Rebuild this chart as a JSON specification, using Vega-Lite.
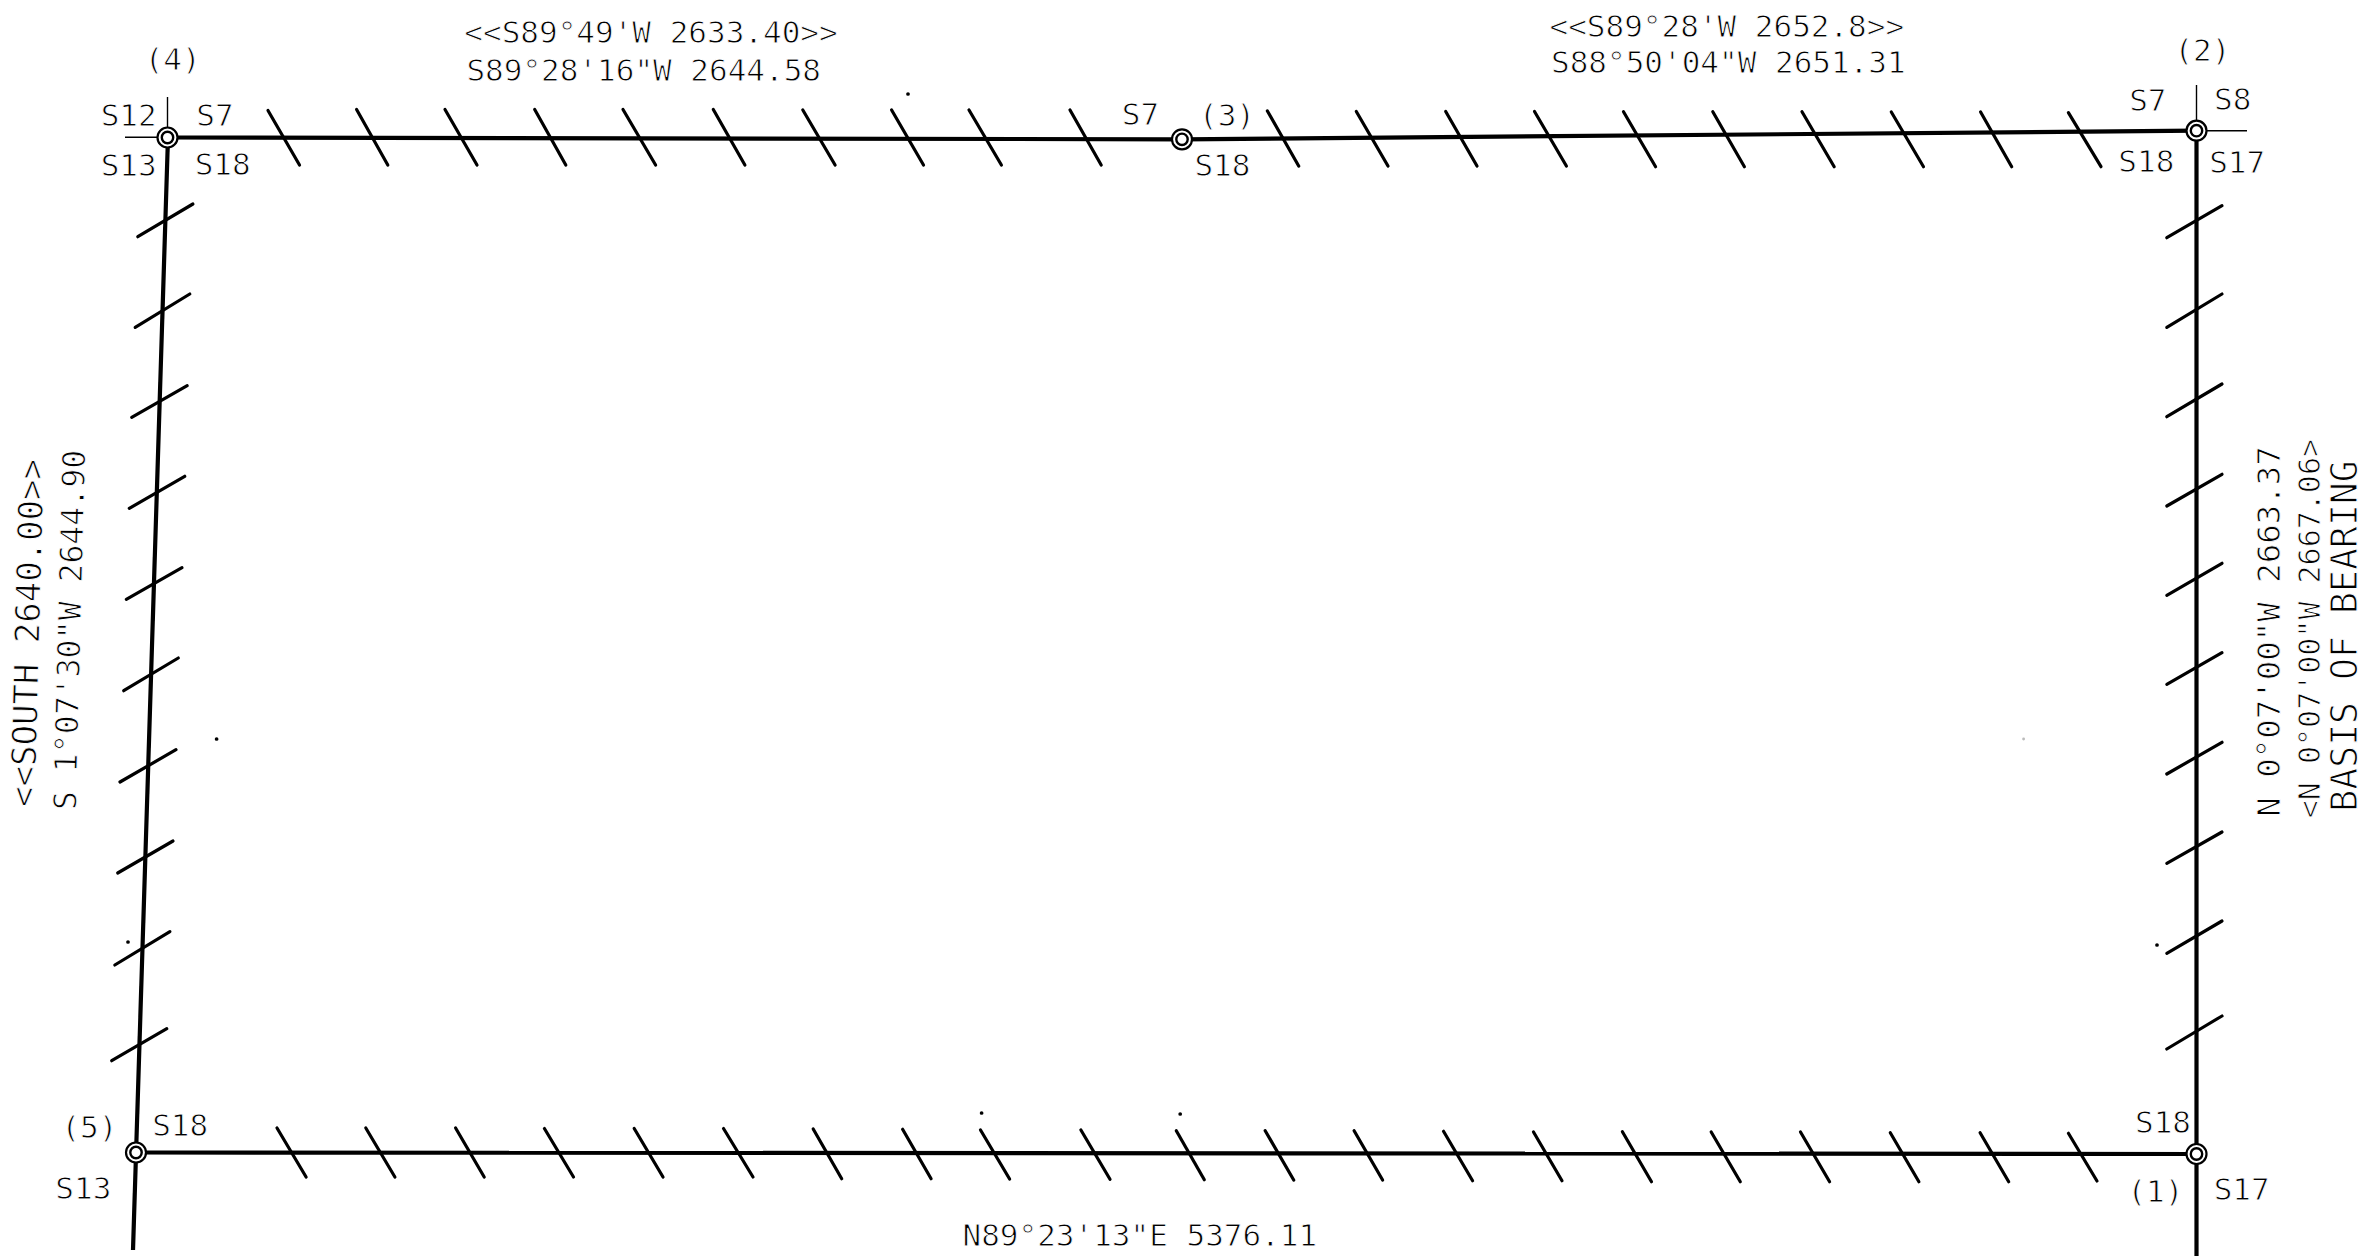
{
"$schema":"https://vega.github.io/schema/vega-lite/v6.json",
"width":2375,"height":1260,"padding":0,
"autosize":{"type":"fit","contains":"padding"},
"background":"white",
"config":{"view":{"stroke":null},"axis":{"domain":false}},
"datasets":{
"boundary":[
{"x":168,"y":137.5,"x2":1182,"y2":139.3},
{"x":1182,"y":139.3,"x2":2196.5,"y2":130.7},
{"x":136,"y":1152.5,"x2":2196.5,"y2":1154},
{"x":168,"y":137,"x2":133,"y2":1250},
{"x":2196.5,"y":131,"x2":2196.5,"y2":1256}
],
"extensions":[
{"x":167.5,"y":97,"x2":167.5,"y2":130},
{"x":125,"y":137.3,"x2":158,"y2":137.3},
{"x":2196.5,"y":85,"x2":2196.5,"y2":121},
{"x":2206,"y":130.7,"x2":2247,"y2":130.7}
],
"ticks":[
{"x":268,"y":110.5,"x2":299.5,"y2":165},{"x":356.6,"y":109.5,"x2":387.8,"y2":165},{"x":445,"y":109.5,"x2":477,"y2":165},{"x":534.7,"y":109.5,"x2":565.8,"y2":165},{"x":623,"y":109.5,"x2":655.6,"y2":165},{"x":713.3,"y":109.5,"x2":744.9,"y2":165},{"x":802.8,"y":110,"x2":835.1,"y2":165},{"x":891.6,"y":110,"x2":923.5,"y2":165},{"x":969,"y":110,"x2":1001.4,"y2":165},{"x":1070,"y":110,"x2":1101.2,"y2":165},
{"x":1267.4,"y":111,"x2":1298.7,"y2":166},{"x":1356.3,"y":111.5,"x2":1388,"y2":166},{"x":1445.7,"y":111.5,"x2":1477,"y2":166},{"x":1534.5,"y":111.5,"x2":1566.4,"y2":166},{"x":1623.5,"y":111.7,"x2":1655.6,"y2":166.7},{"x":1712.8,"y":111.7,"x2":1744.4,"y2":166.7},{"x":1802,"y":111.7,"x2":1834.2,"y2":166.7},{"x":1891.3,"y":112,"x2":1923.5,"y2":166.7},{"x":1980.6,"y":112,"x2":2011.7,"y2":166.7},{"x":2068.4,"y":112.7,"x2":2101,"y2":166.7},
{"x":277,"y":1128,"x2":306.1,"y2":1177},{"x":365.8,"y":1128,"x2":394.9,"y2":1177},{"x":455.6,"y":1128,"x2":484.2,"y2":1177},{"x":544.4,"y":1128.5,"x2":573.5,"y2":1177},{"x":634.2,"y":1128.5,"x2":663,"y2":1177},{"x":723.5,"y":1128.5,"x2":753,"y2":1177},{"x":813.2,"y":1129,"x2":841.7,"y2":1178.7},{"x":902.6,"y":1129.3,"x2":931.1,"y2":1178.7},{"x":980.5,"y":1130,"x2":1009.6,"y2":1179},{"x":1080.9,"y":1130,"x2":1110,"y2":1179.3},{"x":1176.3,"y":1130.7,"x2":1204.3,"y2":1179.7},{"x":1265.2,"y":1130.7,"x2":1293.7,"y2":1180},{"x":1354.1,"y":1130.7,"x2":1382.6,"y2":1180},{"x":1443.5,"y":1131.3,"x2":1472.6,"y2":1180.7},{"x":1533.5,"y":1132,"x2":1562,"y2":1180.7},
{"x":1622.4,"y":1131.7,"x2":1651.5,"y2":1181.7},{"x":1711.2,"y":1132,"x2":1740.3,"y2":1181.7},{"x":1800.5,"y":1132,"x2":1829.6,"y2":1181.7},{"x":1890.3,"y":1132.7,"x2":1918.9,"y2":1181.7},{"x":1980.1,"y":1132.7,"x2":2008.7,"y2":1181.7},{"x":2068.4,"y":1133.3,"x2":2097,"y2":1181},
{"x":137.8,"y":236.7,"x2":192.9,"y2":204},{"x":135.2,"y":327.3,"x2":189.8,"y2":294},{"x":131.7,"y":417.3,"x2":187.2,"y2":385.7},{"x":129.3,"y":508.3,"x2":184.7,"y2":476.3},{"x":126.3,"y":599.3,"x2":182,"y2":567.7},{"x":123.7,"y":690.7,"x2":178.3,"y2":658},{"x":120,"y":782,"x2":176,"y2":749.7},{"x":117.7,"y":873,"x2":173,"y2":841},{"x":114.8,"y":965,"x2":169.9,"y2":931.7},{"x":111.7,"y":1060.7,"x2":166.8,"y2":1028.7},
{"x":2166.8,"y":237.7,"x2":2222,"y2":205.7},{"x":2166.8,"y":327.3,"x2":2222,"y2":294},{"x":2166.8,"y":416.7,"x2":2222,"y2":384},{"x":2166.8,"y":506,"x2":2222,"y2":474.3},{"x":2166.8,"y":595.3,"x2":2222,"y2":563.3},{"x":2166.8,"y":684.3,"x2":2222,"y2":652.7},{"x":2166.8,"y":774,"x2":2222,"y2":742.3},{"x":2166.8,"y":863.3,"x2":2222,"y2":832},{"x":2166.8,"y":953.3,"x2":2222,"y2":921},{"x":2166.8,"y":1049,"x2":2222,"y2":1016}
],
"corners":[{"x":167.5,"y":137.5},{"x":1182,"y":139.3},{"x":2196.5,"y":130.7},{"x":136,"y":1152.5},{"x":2196.5,"y":1154}],
"specks":[{"x":908,"y":94},{"x":216.6,"y":739},{"x":128,"y":942},{"x":2157,"y":945},{"x":981.6,"y":1113},{"x":1180.2,"y":1114}],
"faintSpecks":[{"x":2023.6,"y":739}],
"labels":[
{"t":"(4)","x":172.7,"y":59},{"t":"S12","x":128.7,"y":115},{"t":"S7","x":215,"y":115},{"t":"S13","x":128.7,"y":165},{"t":"S18","x":222.7,"y":163.6},
{"t":"S7","x":1140.5,"y":113.6},{"t":"(3)","x":1227,"y":115},{"t":"S18","x":1222.4,"y":165},
{"t":"(2)","x":2202.4,"y":50},{"t":"S7","x":2147.8,"y":100},{"t":"S8","x":2232.7,"y":98.5},{"t":"S18","x":2146.3,"y":160.6},{"t":"S17","x":2237.2,"y":162},
{"t":"(5)","x":89.4,"y":1127},{"t":"S18","x":180.2,"y":1125.4},{"t":"S13","x":83.3,"y":1187.5},
{"t":"S18","x":2163,"y":1122.4},{"t":"(1)","x":2155.4,"y":1190.5},{"t":"S17","x":2241.7,"y":1189},
{"t":"<<S89°49'W 2633.40>>","x":651,"y":32},{"t":"S89°28'16\"W 2644.58","x":643.7,"y":69.7},{"t":"<<S89°28'W 2652.8>>","x":1726.8,"y":25.8},{"t":"S88°50'04\"W 2651.31","x":1728.3,"y":62},{"t":"N89°23'13\"E 5376.11","x":1139.8,"y":1235}
],
"leftA":[{"t":"<<SOUTH 2640.00>>","x":29.3,"y":633}],
"leftB":[{"t":"S 1°07'30\"W 2644.90","x":71.6,"y":630}],
"rightA":[{"t":"N 0°07'00\"W 2663.37","x":2270,"y":631.6}],
"rightB":[{"t":"<N 0°07'00\"W 2667.06>","x":2311,"y":628.6}],
"rightC":[{"t":"BASIS OF BEARING","x":2346,"y":636}]
},
"encoding":{
"x":{"field":"x","type":"quantitative","axis":null,"scale":{"domain":[0,2375],"nice":false,"zero":false}},
"y":{"field":"y","type":"quantitative","axis":null,"scale":{"domain":[1260,0],"nice":false,"zero":false}}
},
"layer":[
{"data":{"name":"boundary"},"mark":{"type":"rule","color":"black","strokeWidth":4.2,"strokeCap":"butt"},"encoding":{"x2":{"field":"x2"},"y2":{"field":"y2"}}},
{"data":{"name":"extensions"},"mark":{"type":"rule","color":"black","strokeWidth":1.4},"encoding":{"x2":{"field":"x2"},"y2":{"field":"y2"}}},
{"data":{"name":"ticks"},"mark":{"type":"rule","color":"black","strokeWidth":3.2,"strokeCap":"round"},"encoding":{"x2":{"field":"x2"},"y2":{"field":"y2"}}},
{"data":{"name":"corners"},"mark":{"type":"point","shape":"circle","filled":false,"fill":"white","fillOpacity":1,"stroke":"black","strokeOpacity":1,"strokeWidth":2.2,"size":400}},
{"data":{"name":"corners"},"mark":{"type":"point","shape":"circle","filled":false,"fill":"white","fillOpacity":1,"stroke":"black","strokeOpacity":1,"strokeWidth":2.4,"size":130}},
{"data":{"name":"specks"},"mark":{"type":"point","shape":"circle","filled":true,"color":"black","opacity":1,"size":14}},
{"data":{"name":"faintSpecks"},"mark":{"type":"point","shape":"circle","filled":true,"color":"#bbbbbb","opacity":1,"size":8}},
{"data":{"name":"labels"},"mark":{"type":"text","font":"DejaVu Sans Mono","fontSize":31,"dy":2,"align":"center","baseline":"middle","fill":"black","stroke":"white","strokeWidth":0.9},"encoding":{"text":{"field":"t"}}},
{"data":{"name":"leftA"},"mark":{"type":"text","font":"DejaVu Sans Mono","fontSize":34,"angle":271.5,"align":"center","baseline":"middle","fill":"black","stroke":"white","strokeWidth":0.9},"encoding":{"text":{"field":"t"}}},
{"data":{"name":"leftB"},"mark":{"type":"text","font":"DejaVu Sans Mono","fontSize":31.5,"angle":271.5,"align":"center","baseline":"middle","fill":"black","stroke":"white","strokeWidth":0.9},"encoding":{"text":{"field":"t"}}},
{"data":{"name":"rightA"},"mark":{"type":"text","font":"DejaVu Sans Mono","fontSize":32.4,"angle":270,"align":"center","baseline":"middle","fill":"black","stroke":"white","strokeWidth":0.9},"encoding":{"text":{"field":"t"}}},
{"data":{"name":"rightB"},"mark":{"type":"text","font":"DejaVu Sans Mono","fontSize":30,"angle":270,"align":"center","baseline":"middle","fill":"black","stroke":"white","strokeWidth":0.9},"encoding":{"text":{"field":"t"}}},
{"data":{"name":"rightC"},"mark":{"type":"text","font":"DejaVu Sans Mono","fontSize":36.5,"angle":270,"align":"center","baseline":"middle","fill":"black","stroke":"white","strokeWidth":1.1},"encoding":{"text":{"field":"t"}}}
]
}
